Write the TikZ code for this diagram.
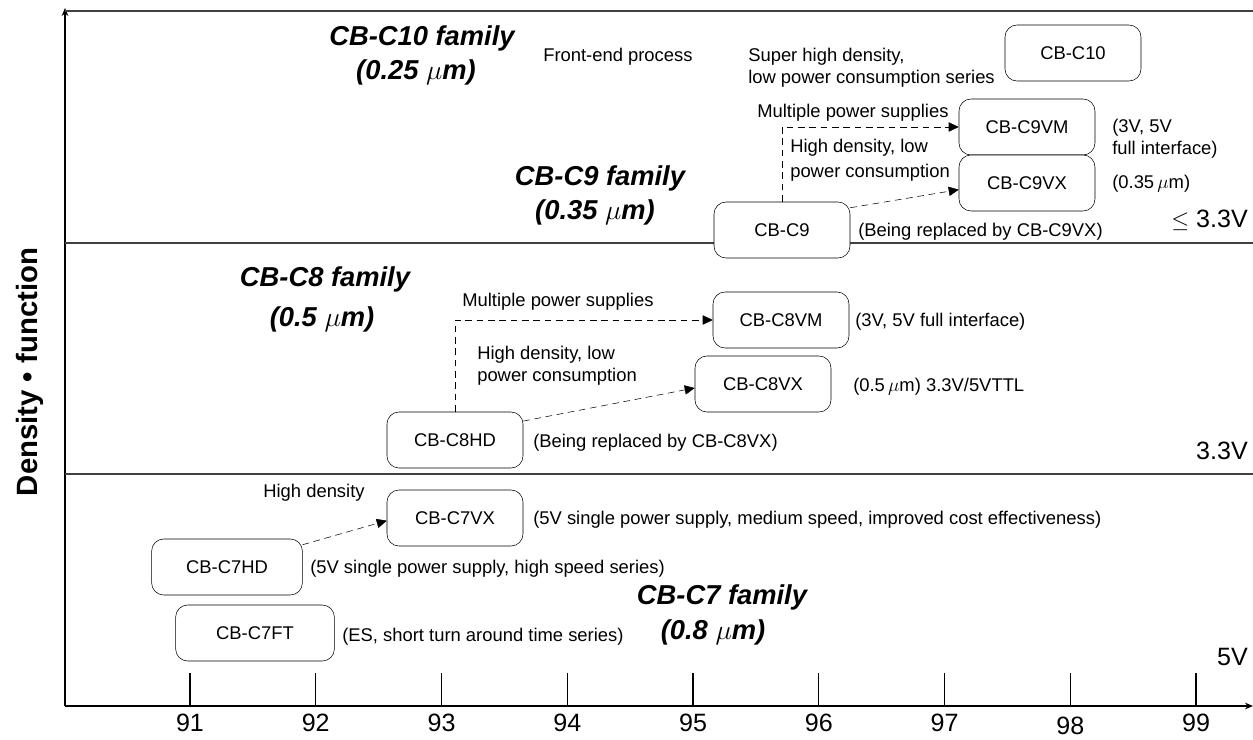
\documentclass[tikz,border=0pt]{standalone}
\usepackage{fontspec}
\setmainfont{Liberation Sans}
\usetikzlibrary{arrows.meta, positioning, calc}

\tikzset{
    chip/.style={draw, fill=white, rounded corners=9pt, minimum width=102pt, minimum height=42pt, inner sep=0pt, font=\fontsize{13.8}{16.5}\selectfont},
    note/.style={anchor=west, inner sep=0pt, align=left, font=\fontsize{13.8}{16.5}\selectfont},
    family/.style={inner sep=0pt, font=\fontsize{20.5}{24}\selectfont\bfseries\itshape},
    volt/.style={anchor=east, inner sep=0pt, font=\fontsize{18.8}{22}\selectfont},
    branch/.style={dash pattern=on 5pt off 3.5pt, -{Triangle[length=7.5pt,width=7pt]}},
    sep/.style={black!75, line width=1pt},
}

\begin{document}
\begin{tikzpicture}[x=0.75pt, y=-0.75pt]
    \useasboundingbox (0,0) rectangle (1253,739);

    % axes and voltage bands
    \draw[line width=1pt, -{Stealth[length=6pt,width=5pt]}] (65,706) -- (65,8);
    \draw[line width=1pt, -{Stealth[length=6pt,width=5pt]}] (65,706) -- (1253,706);
    \draw[sep] (65,11) -- (1253,11);
    \draw[sep] (65,243) -- (1253,243);
    \draw[sep] (65,474) -- (1253,474);

    \foreach \yr/\ly [count=\i from 0] in {91/723,92/723,93/723,94/723,95/723,96/723,97/723,98/726,99/723} {
        \draw[line width=0.8pt] ({190+125.75*\i},673) -- ({190+125.75*\i},706);
        \node[font=\fontsize{18.8}{22}\selectfont] (yr\yr) at ({190+125.75*\i},\ly) {\yr};
    }

    \node[rotate=90, font=\fontsize{22}{26}\selectfont\bfseries] (ylab) at (30,372) {Density • function};

    \node[volt] (v33lo) at (1248,220) {$\leq$ 3.3V};
    \node[volt] (v33) at (1248,451) {3.3V};
    \node[volt] (v5) at (1248,657) {5V};

    % families
    \node[family] (f10) at (422,38) {CB-C10 family};
    \node[family] (f10um) at (416,72) {(0.25 $\mu$m)};
    \node[family] (f9) at (600,178) {CB-C9 family};
    \node[family] (f9um) at (595,212) {(0.35 $\mu$m)};
    \node[family] (f8) at (325,279) {CB-C8 family};
    \node[family] (f8um) at (322,319) {(0.5 $\mu$m)};
    \node[family] (f7) at (722,597) {CB-C7 family};
    \node[family] (f7um) at (713,632) {(0.8 $\mu$m)};

    % cell-based series
    \node[chip] (c10) at (1073,53) {CB-C10};
    \node[chip] (c9vm) at (1027,127) {CB-C9VM};
    \node[chip] (c9vx) at (1027,183) {CB-C9VX};
    \node[chip] (c9) at (782,230) {CB-C9};
    \node[chip] (c8vm) at (781,320) {CB-C8VM};
    \node[chip] (c8vx) at (763,384) {CB-C8VX};
    \node[chip] (c8hd) at (455,440) {CB-C8HD};
    \node[chip] (c7vx) at (455,518) {CB-C7VX};
    \node[chip, minimum width=113pt] (c7hd) at (227,567) {CB-C7HD};
    \node[chip, minimum width=119pt] (c7ft) at (255,633) {CB-C7FT};

    % remarks
    \node[note] (fe) at (543,57) {Front-end process};
    \node[note] (shd) at (748,68) {Super high density,\\low power consumption series};
    \node[note] (mp9) at (757,113) {Multiple power supplies};
    \node[note] (hd9) at (790,160) {High density, low\\[2pt]power consumption};
    \node[note] (r9vm) at (1112,139) {(3V, 5V\\full interface)};
    \node[note] (r9vx) at (1112,184) {(0.35$\,\mu$m)};
    \node[note] (r9) at (858,232) {(Being replaced by CB-C9VX)};
    \node[note] (mp8) at (462,302) {Multiple power supplies};
    \node[note] (hd8) at (477,366) {High density, low\\power consumption};
    \node[note] (r8vm) at (855,322) {(3V, 5V full interface)};
    \node[note] (r8vx) at (853,387) {(0.5$\,\mu$m) 3.3V/5VTTL};
    \node[note] (r8hd) at (533,443) {(Being replaced by CB-C8VX)};
    \node[note, anchor=center] (hd7) at (314,493) {High density};
    \node[note] (r7vx) at (533,520) {(5V single power supply, medium speed, improved cost effectiveness)};
    \node[note] (r7hd) at (310,569) {(5V single power supply, high speed series)};
    \node[note] (r7ft) at (342,637) {(ES, short turn around time series)};

    % migration paths
    \draw[branch] (c9.north) |- (c9vm.west);
    \draw[branch] ([yshift=-4.5pt]c9.north east) -- ([yshift=-5pt]c9vx.west);
    \draw[branch] (c8hd.north) |- (c8vm.west);
    \draw[branch] ([yshift=-7pt]c8hd.north east) -- ([yshift=-3pt]c8vx.west);
    \draw[branch] ([yshift=-4.5pt]c7hd.north east) -- ([yshift=-2pt]c7vx.west);
\end{tikzpicture}
\end{document}
